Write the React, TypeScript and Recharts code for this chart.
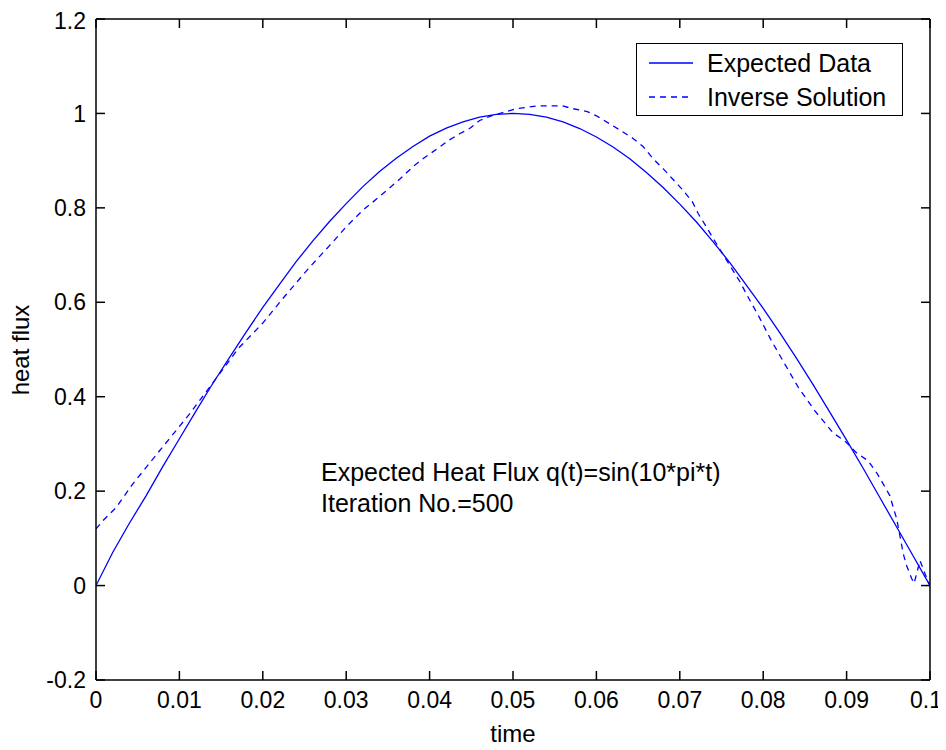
import { LineChart, Line, XAxis, YAxis, Legend } from "recharts";

// expected data, sampled every 0.002 s
const expectedT = [
  0, 0.002, 0.004, 0.006, 0.008, 0.01, 0.012, 0.014, 0.016, 0.018,
  0.02, 0.022, 0.024, 0.026, 0.028, 0.03, 0.032, 0.034, 0.036, 0.038,
  0.04, 0.042, 0.044, 0.046, 0.048, 0.05, 0.052, 0.054, 0.056, 0.058,
  0.06, 0.062, 0.064, 0.066, 0.068, 0.07, 0.072, 0.074, 0.076, 0.078,
  0.08, 0.082, 0.084, 0.086, 0.088, 0.09, 0.092, 0.094, 0.096, 0.098, 0.1,
];
const expectedQ = [
  0, 0.07, 0.132, 0.19, 0.252, 0.311, 0.37, 0.428, 0.483, 0.537,
  0.589, 0.638, 0.686, 0.73, 0.771, 0.809, 0.845, 0.877, 0.905, 0.93,
  0.952, 0.969, 0.982, 0.992, 0.998, 1.0, 0.998, 0.992, 0.982, 0.968,
  0.95, 0.929, 0.904, 0.875, 0.843, 0.808, 0.77, 0.728, 0.684, 0.636,
  0.587, 0.535, 0.481, 0.425, 0.367, 0.308, 0.248, 0.186, 0.124, 0.062, 0,
];

// inverse solution
const inverseT = [
  0, 0.0008, 0.0024, 0.0044, 0.0076, 0.0112, 0.0153, 0.0171, 0.02, 0.0224,
  0.0255, 0.028, 0.03, 0.032, 0.034, 0.0365, 0.038, 0.0392, 0.0409, 0.0422,
  0.0436, 0.0448, 0.046, 0.0474, 0.0504, 0.0529, 0.0559, 0.0572, 0.0589, 0.06,
  0.0616, 0.0628, 0.0644, 0.0656, 0.0668, 0.068, 0.0692, 0.0703, 0.0715, 0.0722,
  0.073, 0.0748, 0.0772, 0.078, 0.0796, 0.081, 0.0826, 0.0842, 0.0862, 0.0884,
  0.0898, 0.0912, 0.0926, 0.0936, 0.0944, 0.0952, 0.0956, 0.096, 0.0968, 0.0972,
  0.0978, 0.0981, 0.0988, 0.0994, 0.1,
];
const inverseQ = [
  0.12, 0.137, 0.165, 0.215, 0.285, 0.363, 0.46, 0.503, 0.556, 0.608,
  0.672, 0.72, 0.76, 0.795, 0.824, 0.862, 0.887, 0.904, 0.925, 0.942,
  0.957, 0.968, 0.985, 0.995, 1.01, 1.016, 1.016, 1.01, 1.004, 0.995,
  0.978, 0.965, 0.947, 0.93, 0.904, 0.883, 0.86, 0.839, 0.813, 0.788,
  0.765, 0.712, 0.644, 0.617, 0.566, 0.518, 0.469, 0.42, 0.37, 0.323,
  0.306, 0.281, 0.264, 0.239, 0.215, 0.19, 0.165, 0.142, 0.067, 0.042,
  0.015, 0.005, 0.053, 0.025, 0,
];

const xTicks = [0, 0.01, 0.02, 0.03, 0.04, 0.05, 0.06, 0.07, 0.08, 0.09, 0.1];
const yTicks = [-0.2, 0, 0.2, 0.4, 0.6, 0.8, 1, 1.2];

const expected = expectedT.map((t, i) => ({ t, q: expectedQ[i] }));
const inverse = inverseT.map((t, i) => ({ t, q: inverseQ[i] }));

const FONT = '"Liberation Sans", Arial, sans-serif';
const BLUE = "#0000FF";
const tickStyle = { fontSize: 23, fill: "#000", fontFamily: FONT };
const axisStroke = { stroke: "#000", strokeWidth: 1.5 };

// x tick label; the last one is nudged left so it stays inside the page
function XTick(props: any) {
  const { x, y, payload } = props;
  const last = payload.value === xTicks[xTicks.length - 1];
  return (
    <text x={last ? x - 4 : x} y={y} dy="0.71em" textAnchor="middle" style={tickStyle}>
      {String(payload.value)}
    </text>
  );
}

// top/right box axes: tick marks only, no labels
function NoLabel() {
  return <g />;
}

function LegendBox() {
  const row = (dash: string | undefined, label: string) => (
    <div style={{ display: "flex", alignItems: "center", height: 34 }}>
      <svg width={58} height={10} style={{ marginLeft: 12 }}>
        <line x1={0} y1={5} x2={44} y2={5} stroke={BLUE} strokeWidth={1.3} strokeDasharray={dash} />
      </svg>
      <span>{label}</span>
    </div>
  );
  return (
    <div style={{
      width: 267, height: 73, boxSizing: "border-box", border: "1.5px solid #000", background: "#fff",
      fontFamily: FONT, fontSize: 25, color: "#000", paddingTop: 2, lineHeight: 1,
    }}>
      {row(undefined, "Expected Data")}
      {row("6 5", "Inverse Solution")}
    </div>
  );
}

export default function App() {
  return (
    <div style={{ position: "relative", width: 938, height: 742, background: "#fff" }}>
      <LineChart width={938} height={742} margin={{ top: 9, right: 14, bottom: 0, left: 0 }}>
        <XAxis
          xAxisId="b" dataKey="t" type="number" domain={[0, 0.1]} ticks={xTicks} allowDataOverflow
          height={70} tick={<XTick />} tickSize={-9} tickMargin={21}
          axisLine={axisStroke} tickLine={axisStroke}
          label={{ value: "time", position: "insideBottom", offset: 8, style: { fontSize: 24, fill: "#000", fontFamily: FONT } }}
        />
        <XAxis
          xAxisId="top" orientation="top" dataKey="t" type="number" domain={[0, 0.1]} ticks={xTicks} allowDataOverflow
          height={2} tick={<NoLabel />} tickSize={-9} axisLine={axisStroke} tickLine={axisStroke}
        />
        <YAxis
          yAxisId="l" type="number" domain={[-0.2, 1.2]} ticks={yTicks} allowDataOverflow
          width={88} tick={tickStyle} tickSize={-9} tickMargin={19}
          axisLine={axisStroke} tickLine={axisStroke}
          label={{
            content: () => (
              <text x={15} y={342} transform="rotate(-90 15 342)" textAnchor="middle" dominantBaseline="middle"
                style={{ fontSize: 24, fill: "#000", fontFamily: FONT }}>heat flux</text>
            ),
          }}
        />
        <YAxis
          yAxisId="r" orientation="right" type="number" domain={[-0.2, 1.2]} ticks={yTicks} allowDataOverflow
          width={2} tick={<NoLabel />} tickSize={-9} axisLine={axisStroke} tickLine={axisStroke}
        />
        <Legend
          layout="vertical" align="center" verticalAlign="middle"
          wrapperStyle={{ top: 35, left: 628, width: 267, height: 73 }}
          content={() => <LegendBox />}
        />
        <Line
          xAxisId="b" yAxisId="l" data={expected} dataKey="q" type="linear" name="Expected Data"
          stroke={BLUE} strokeWidth={1.3} dot={false} isAnimationActive={false}
        />
        {/* same ranges as the bottom/left pair; ties the box axes to a series */}
        <Line
          xAxisId="top" yAxisId="r" data={inverse} dataKey="q" type="linear" name="Inverse Solution"
          stroke={BLUE} strokeWidth={1.3} strokeDasharray="6 5" dot={false} isAnimationActive={false}
        />
      </LineChart>
      <div style={{
        position: "absolute", left: 313, top: 449, fontFamily: FONT, fontSize: 25, lineHeight: "31px",
        color: "#000", whiteSpace: "nowrap",
      }}>
        <div>Expected Heat Flux q(t)=sin(10*pi*t)</div>
        <div>Iteration No.=500</div>
      </div>
    </div>
  );
}
